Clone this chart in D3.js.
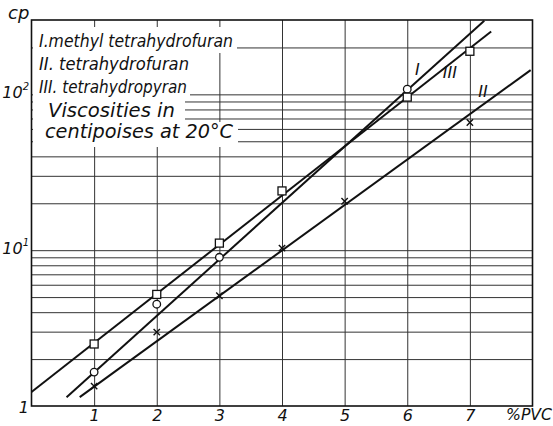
<!DOCTYPE html>
<html>
<head>
<meta charset="utf-8">
<script src="https://cdn.jsdelivr.net/npm/d3@7/dist/d3.min.js"></script>
<style>
  html, body { margin: 0; padding: 0; background: #fff; }
  svg text { font-family: "DejaVu Sans", "Liberation Sans", sans-serif; fill: #111; }
</style>
</head>
<body>
<svg id="chart" width="553" height="426"></svg>
<script>
// ---- data ----
const xTicks = [1, 2, 3, 4, 5, 6, 7];
const yGrid = [2, 3, 4, 5, 6, 7, 8, 9, 10, 20, 30, 40, 50, 60, 70, 80, 90, 100, 200];
const yLabels = [
  { v: 1, base: "1", sup: "" },
  { v: 10, base: "10", sup: "1" },
  { v: 100, base: "10", sup: "2" }
];
// curve I : methyl tetrahydrofuran (circles)
const xI = [1, 2, 3, 6];
const vI = [1.65, 4.5, 9.0, 108];
// curve II : tetrahydrofuran (crosses)
const xII = [1, 2, 3, 4, 5, 7];
const vII = [1.34, 2.98, 5.1, 10.3, 20.6, 66];
// curve III : tetrahydropyran (squares)
const xIII = [1, 2, 3, 4, 6, 7];
const vIII = [2.5, 5.2, 11.1, 24, 96, 189];
// fitted straight lines (on log scale): endpoints [x, value]
const fitI = [[0.56, 1.14], [7.23, 297]];
const fitII = [[0.77, 1.14], [7.97, 143]];
const fitIII = [[0.0, 1.23], [7.34, 253]];
// labels on curves: [text, x, value]
const curveLabels = [["I", 6.16, 142], ["III", 6.68, 136], ["II", 7.21, 103]];
const legendLines = [
  "I.methyl tetrahydrofuran",
  "II. tetrahydrofuran",
  "III. tetrahydropyran"
];
const noteLines = ["Viscosities in", "centipoises at 20°C"];

// ---- layout ----
const svg = d3.select("#chart");
const L = 31.5, R = 532.5, T = 20, B = 406;
const x = d3.scaleLinear().domain([0, 8]).range([L, R]);
const y = d3.scaleLog().domain([1, 300]).range([B, T]);

// grid via axes
const gx = svg.append("g").attr("transform", `translate(0,${B})`)
  .call(d3.axisBottom(x).tickValues(xTicks).tickSize(-(B - T)).tickFormat(d => d));
gx.select(".domain").remove();
gx.selectAll("line").attr("stroke", "#333").attr("stroke-width", 1);
gx.selectAll("text").attr("font-size", 16).attr("font-style", "italic")
  .attr("fill", "#111").attr("y", 15).attr("dy", 0);

const gy = svg.append("g").attr("transform", `translate(${L},0)`)
  .call(d3.axisLeft(y).tickValues(yGrid).tickSize(-(R - L)).tickFormat(""));
gy.select(".domain").remove();
gy.selectAll("line").attr("stroke", "#333").attr("stroke-width", 1);

// legend masks (white behind text)
const masks = [[33, 27, 237, 53], [33, 53, 190, 100], [33, 100, 185, 122], [33, 122, 238, 147]];
svg.selectAll("rect.mask").data(masks).enter().append("rect")
  .attr("x", d => d[0]).attr("y", d => d[1])
  .attr("width", d => d[2] - d[0]).attr("height", d => d[3] - d[1])
  .attr("fill", "#fff");

// frame
svg.append("rect").attr("x", L).attr("y", T).attr("width", R - L).attr("height", B - T)
  .attr("fill", "none").attr("stroke", "#111").attr("stroke-width", 1.6);

// fitted lines
const line = d3.line().x(d => x(d[0])).y(d => y(d[1]));
[fitI, fitII, fitIII].forEach(f => {
  svg.append("path").attr("d", line(f)).attr("fill", "none")
    .attr("stroke", "#111").attr("stroke-width", 2);
});

// markers
svg.selectAll("circle.ptI").data(xI.map((d, i) => [d, vI[i]])).enter().append("circle")
  .attr("cx", d => x(d[0])).attr("cy", d => y(d[1])).attr("r", 3.8)
  .attr("fill", "#fff").attr("stroke", "#111").attr("stroke-width", 1.3);
svg.selectAll("rect.ptIII").data(xIII.map((d, i) => [d, vIII[i]])).enter().append("rect")
  .attr("x", d => x(d[0]) - 4).attr("y", d => y(d[1]) - 4).attr("width", 8).attr("height", 8)
  .attr("fill", "#fff").attr("stroke", "#111").attr("stroke-width", 1.3);
svg.selectAll("path.ptII").data(xII.map((d, i) => [d, vII[i]])).enter().append("path")
  .attr("d", d3.symbol().type(d3.symbolX).size(28))
  .attr("transform", d => `translate(${x(d[0])},${y(d[1])})`)
  .attr("fill", "none").attr("stroke", "#111").attr("stroke-width", 1.4);

// curve labels
svg.selectAll("text.cl").data(curveLabels).enter().append("text")
  .attr("x", d => x(d[1])).attr("y", d => y(d[2]))
  .attr("text-anchor", "middle").attr("dominant-baseline", "middle")
  .attr("font-size", 16).attr("font-style", "italic").attr("font-family", "Liberation Serif")
  .text(d => d[0]);

// y labels
yLabels.forEach(d => {
  const t = svg.append("text").attr("x", 29).attr("y", y(d.v) + (d.v === 1 ? 7 : 4))
    .attr("text-anchor", "end").attr("font-size", 16).attr("font-style", "italic");
  t.append("tspan").text(d.base);
  if (d.sup) t.append("tspan").attr("font-size", 10).attr("dy", -8).text(d.sup);
});

// axis titles
svg.append("text").attr("x", 8).attr("y", 19).attr("font-size", 18).attr("font-style", "italic").text("cp");
svg.append("text").attr("x", 506).attr("y", 420).attr("font-size", 15).attr("font-style", "italic")
  .attr("textLength", 46).attr("lengthAdjust", "spacingAndGlyphs").text("%PVC");

// legend
const legY = [47, 70, 93];
const legW = [194, 150, 148];
legendLines.forEach((s, i) => {
  svg.append("text").attr("x", 39).attr("y", legY[i]).attr("font-size", 17).attr("font-style", "italic")
    .attr("textLength", legW[i]).attr("lengthAdjust", "spacingAndGlyphs").text(s);
});
const noteY = [117, 138], noteX = [48, 45], noteW = [127, 188];
noteLines.forEach((s, i) => {
  svg.append("text").attr("x", noteX[i]).attr("y", noteY[i]).attr("font-size", 19)
    .attr("font-style", "italic").attr("font-weight", "500")
    .attr("textLength", noteW[i]).attr("lengthAdjust", "spacingAndGlyphs").text(s);
});
</script>
</body>
</html>
